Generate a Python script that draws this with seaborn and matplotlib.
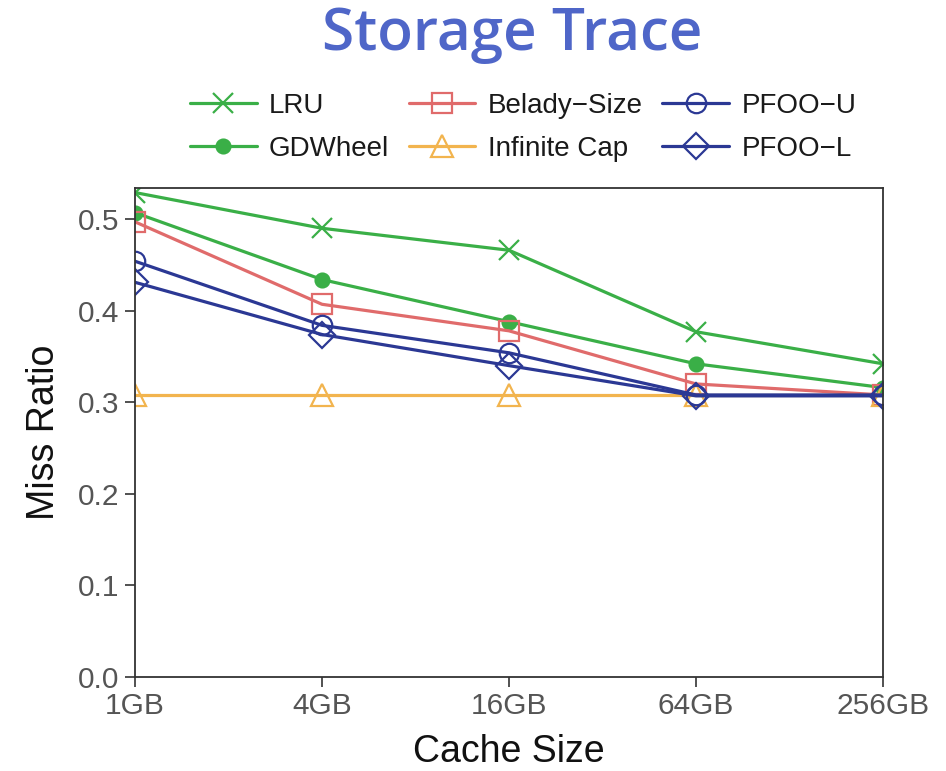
import matplotlib
matplotlib.use("Agg")
import matplotlib.pyplot as plt
import seaborn as sns
import pandas as pd

# Miss ratio per cache size for each caching policy
cache_sizes = [1, 4, 16, 64, 256]
size_labels = ["1GB", "4GB", "16GB", "64GB", "256GB"]

lru = [0.529, 0.490, 0.466, 0.377, 0.342]
gdwheel = [0.507, 0.434, 0.388, 0.342, 0.316]
belady_size = [0.497, 0.407, 0.378, 0.320, 0.308]
infinite_cap = [0.308, 0.308, 0.308, 0.308, 0.308]
pfoo_u = [0.454, 0.384, 0.354, 0.308, 0.308]
pfoo_l = [0.431, 0.374, 0.340, 0.307, 0.307]

series_names = ["LRU", "GDWheel", "Belady\u2212Size", "Infinite Cap", "PFOO\u2212U", "PFOO\u2212L"]
series_values = [lru, gdwheel, belady_size, infinite_cap, pfoo_u, pfoo_l]

GREEN = "#3aaf47"
RED = "#e06b6b"
ORANGE = "#f2b44e"
NAVY = "#2b3894"

styles = {
    "LRU": dict(color=GREEN, marker="x", ms=14, filled=False),
    "GDWheel": dict(color=GREEN, marker="o", ms=10, filled=True),
    "Belady\u2212Size": dict(color=RED, marker="s", ms=14, filled=False),
    "Infinite Cap": dict(color=ORANGE, marker="^", ms=16, filled=False),
    "PFOO\u2212U": dict(color=NAVY, marker="o", ms=14, filled=False),
    "PFOO\u2212L": dict(color=NAVY, marker="D", ms=13, filled=False),
}

sns.set_theme(style="white")
plt.rcParams["font.family"] = ["Liberation Sans", "DejaVu Sans"]

fig = plt.figure(figsize=(9.46, 7.71), dpi=100)
ax = fig.add_axes([0.1427, 0.1219, 0.7907, 0.6343])

for name, vals in zip(series_names, series_values):
    st = styles[name]
    df = pd.DataFrame({"size": cache_sizes, "miss": vals})
    sns.lineplot(
        data=df, x="size", y="miss", ax=ax, label=name,
        color=st["color"], linewidth=2.3,
        marker=st["marker"], markersize=st["ms"],
        markeredgecolor=st["color"],
        markerfacecolor=st["color"] if st["filled"] else "none",
        markeredgewidth=1.6, legend=False,
    )

ax.set_xscale("log", base=2)
ax.set_xlim(1, 256)
ax.set_ylim(0, 0.534)
ax.set_xticks(cache_sizes)
ax.set_xticklabels(size_labels)
ax.minorticks_off()
ax.set_yticks([0.0, 0.1, 0.2, 0.3, 0.4, 0.5])
ax.set_yticklabels(["0.0", "0.1", "0.2", "0.3", "0.4", "0.5"])

ax.tick_params(axis="both", which="major", direction="out", length=7, width=1.2,
               color="#333333", labelsize=21.5, labelcolor="#555555", pad=4,
               bottom=True, left=True)
for sp in ax.spines.values():
    sp.set_color("#333333")
    sp.set_linewidth(1.3)

ax.set_xlabel("Cache Size", fontsize=27, color="#111111", labelpad=10)
ax.set_ylabel("Miss Ratio", fontsize=27, color="#111111", labelpad=12)

handles, labels = ax.get_legend_handles_labels()
fig.legend(handles, labels, ncol=3, loc="center", bbox_to_anchor=(0.553, 0.835),
           frameon=False, fontsize=20, handlelength=2.4, handletextpad=0.45,
           columnspacing=0.7, labelspacing=0.6, labelcolor="#1a1a1a")

fig.text(0.541, 0.954, "Storage Trace", ha="center", va="center",
         fontsize=42, fontweight=600, color="#4f66c8",
         family=["Open Sans", "DejaVu Sans"])

fig.savefig("out.png", dpi=100)
